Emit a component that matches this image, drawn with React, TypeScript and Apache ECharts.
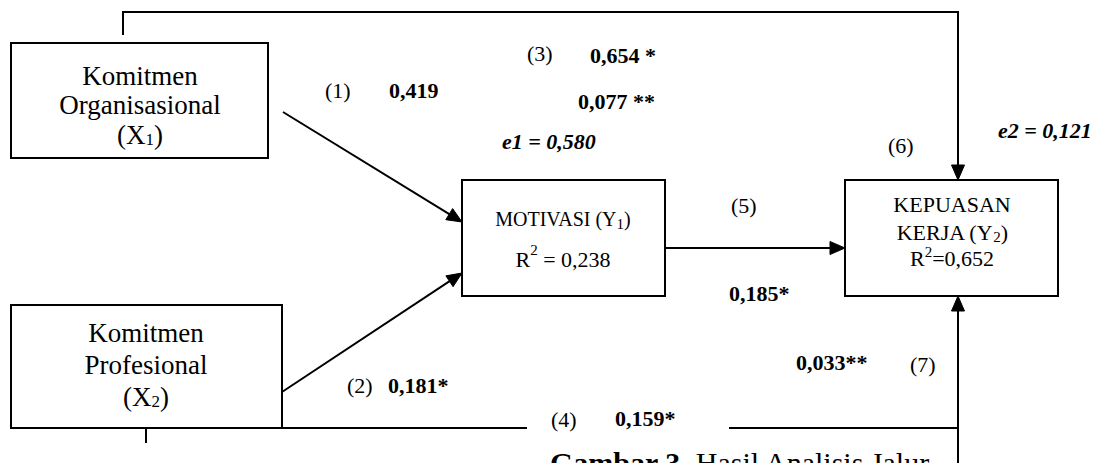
import React, { useEffect, useRef } from "react";
import * as echarts from "echarts";

// ---- content of the path diagram ----
const nodeTitles: string[][] = [
  ["Komitmen", "Organisasional"],
  ["Komitmen", "Profesional"],
  ["MOTIVASI"],
  ["KEPUASAN", "KERJA"],
];
const nodeCodes = ["X", "X", "Y", "Y"];
const nodeIndex = ["1", "2", "1", "2"];
const rSquared = ["0,238", "0,652"];
const pathNumbers = ["(1)", "(2)", "(3)", "(4)", "(5)", "(6)", "(7)"];
const pathCoefs = ["0,419", "0,181*", "0,654 *", "0,159*", "0,185*", "0,077 **", "0,033**"];
const errorTerms = ["e1 = 0,580", "e2 = 0,121"];
const captionBold = "Gambar 3.";
const captionText = " Hasil Analisis Jalur";

// ---- layout ----
const FONT = "Liberation Serif";
const boxes = [
  { x: 11, y: 43, w: 257, h: 115 },
  { x: 11, y: 305, w: 271, h: 123 },
  { x: 462, y: 180, w: 203, h: 116 },
  { x: 845, y: 180, w: 213, h: 116 },
];

function arrow(x1: number, y1: number, x2: number, y2: number, len = 15, half = 6.5) {
  const a = Math.atan2(y2 - y1, x2 - x1);
  const bx = x2 - len * Math.cos(a);
  const by = y2 - len * Math.sin(a);
  return [
    {
      type: "polyline",
      shape: { points: [[x1, y1], [bx + Math.cos(a) * 2, by + Math.sin(a) * 2]] },
      style: { stroke: "#000", lineWidth: 2, fill: null },
    },
    {
      type: "polygon",
      shape: {
        points: [
          [x2, y2],
          [bx - half * Math.sin(a), by + half * Math.cos(a)],
          [bx + half * Math.sin(a), by - half * Math.cos(a)],
        ],
      },
      style: { fill: "#000", stroke: "#000", lineWidth: 1 },
    },
  ];
}

function txt(text: string, x: number, y: number, size: number, opts: any = {}) {
  return {
    type: "text",
    x,
    y,
    style: {
      text,
      fontFamily: FONT,
      fontSize: size,
      fontWeight: opts.bold ? "bold" : "normal",
      fontStyle: opts.italic ? "italic" : "normal",
      fill: "#000",
      align: opts.align || "left",
      verticalAlign: "middle",
      rich: opts.rich,
    },
  };
}

export default function App() {
  const ref = useRef<HTMLDivElement>(null);
  useEffect(() => {
    if (!ref.current) return;
    const chart = echarts.init(ref.current, null, { renderer: "svg" });
    const els: any[] = [];

    // boxes
    boxes.forEach((b) => {
      els.push({
        type: "rect",
        shape: { x: b.x, y: b.y, width: b.w, height: b.h },
        style: { fill: "#fff", stroke: "#000", lineWidth: 2 },
      });
    });

    // node texts
    const subRich = (main: number, sub: number, lh: number) => ({
      n: { fontFamily: FONT, fontSize: main, lineHeight: lh, fill: "#000" },
      s: { fontFamily: FONT, fontSize: sub, lineHeight: sub, verticalAlign: "bottom", fill: "#000" },
    });
    const supRich = (main: number, sup: number, lh: number) => ({
      n: { fontFamily: FONT, fontSize: main, lineHeight: lh, fill: "#000" },
      s: { fontFamily: FONT, fontSize: sup, lineHeight: sup, verticalAlign: "top", fill: "#000" },
    });

    // X1
    els.push(txt(nodeTitles[0][0], 140, 76, 27, { align: "center" }));
    els.push(txt(nodeTitles[0][1], 140, 105, 27, { align: "center" }));
    els.push(
      txt(`{n|(${nodeCodes[0]}}{s|${nodeIndex[0]}}{n|)}`, 140, 135, 27, {
        align: "center",
        rich: subRich(27, 17, 26),
      })
    );
    // X2
    els.push(txt(nodeTitles[1][0], 146, 333, 27, { align: "center" }));
    els.push(txt(nodeTitles[1][1], 146, 365, 27, { align: "center" }));
    els.push(
      txt(`{n|(${nodeCodes[1]}}{s|${nodeIndex[1]}}{n|)}`, 146, 397, 27, {
        align: "center",
        rich: subRich(27, 17, 26),
      })
    );
    // Y1
    els.push(
      txt(`{n|${nodeTitles[2][0]} (${nodeCodes[2]}}{s|${nodeIndex[2]}}{n|)}`, 563, 219, 20, {
        align: "center",
        rich: subRich(20, 15, 24),
      })
    );
    els.push(
      txt(`{n|R}{s|2}{n| = ${rSquared[0]}}`, 563, 259, 22, {
        align: "center",
        rich: supRich(22, 15, 34),
      })
    );
    // Y2
    els.push(txt(nodeTitles[3][0], 952, 204, 22, { align: "center" }));
    els.push(
      txt(`{n|${nodeTitles[3][1]} (${nodeCodes[3]}}{s|${nodeIndex[3]}}{n|)}`, 952, 232, 22, {
        align: "center",
        rich: subRich(22, 15, 24),
      })
    );
    els.push(
      txt(`{n|R}{s|2}{n|=${rSquared[1]}}`, 952, 258, 22, {
        align: "center",
        rich: supRich(22, 15, 28),
      })
    );

    // connectors
    els.push({
      type: "polyline",
      shape: { points: [[123, 35], [123, 12], [958, 12], [958, 166]] },
      style: { stroke: "#000", lineWidth: 2, fill: null },
    });
    els.push(...arrow(958, 160, 958, 180));
    els.push(...arrow(283, 112, 462, 222));
    els.push(...arrow(282, 392, 462, 273));
    els.push(...arrow(665, 248, 845, 248));
    els.push({
      type: "polyline",
      shape: { points: [[282, 428], [527, 428]] },
      style: { stroke: "#000", lineWidth: 2, fill: null },
    });
    els.push({
      type: "polyline",
      shape: { points: [[729, 428], [958, 428]] },
      style: { stroke: "#000", lineWidth: 2, fill: null },
    });
    els.push(...arrow(958, 470, 958, 296));
    els.push({
      type: "polyline",
      shape: { points: [[146, 428], [146, 443]] },
      style: { stroke: "#000", lineWidth: 2, fill: null },
    });

    // path labels
    const P = 22;
    els.push(txt(pathNumbers[0], 325, 90, P));
    els.push(txt(pathCoefs[0], 389, 90, P, { bold: true }));
    els.push(txt(pathNumbers[1], 347, 385, P));
    els.push(txt(pathCoefs[1], 388, 385, P, { bold: true }));
    els.push(txt(pathNumbers[2], 527, 53, P));
    els.push(txt(pathCoefs[2], 590, 55, P, { bold: true }));
    els.push(txt(pathNumbers[3], 551, 419, P));
    els.push(txt(pathCoefs[3], 615, 418, P, { bold: true }));
    els.push(txt(pathNumbers[4], 731, 205, P));
    els.push(txt(pathCoefs[4], 729, 293, P, { bold: true }));
    els.push(txt(pathNumbers[5], 888, 145, P));
    els.push(txt(pathCoefs[5], 578, 101, P, { bold: true }));
    els.push(txt(pathNumbers[6], 910, 364, P));
    els.push(txt(pathCoefs[6], 796, 362, P, { bold: true }));

    // error terms
    els.push(txt(errorTerms[0], 502, 141, P, { bold: true, italic: true }));
    els.push(txt(errorTerms[1], 998, 130, P, { bold: true, italic: true }));

    // caption
    els.push(
      txt(`{b|${captionBold}}{r|${captionText}}`, 550, 462, 30, {
        rich: {
          b: { fontFamily: FONT, fontSize: 30, fontWeight: "bold", fill: "#000" },
          r: { fontFamily: FONT, fontSize: 30, fill: "#000" },
        },
      })
    );

    chart.setOption({
      animation: false,
      backgroundColor: "#fff",
      graphic: { elements: els },
    });
    return () => chart.dispose();
  }, []);
  return (
    <div
      ref={ref}
      style={{ position: "absolute", left: 0, top: 0, width: 1097, height: 463, background: "#fff" }}
    />
  );
}
